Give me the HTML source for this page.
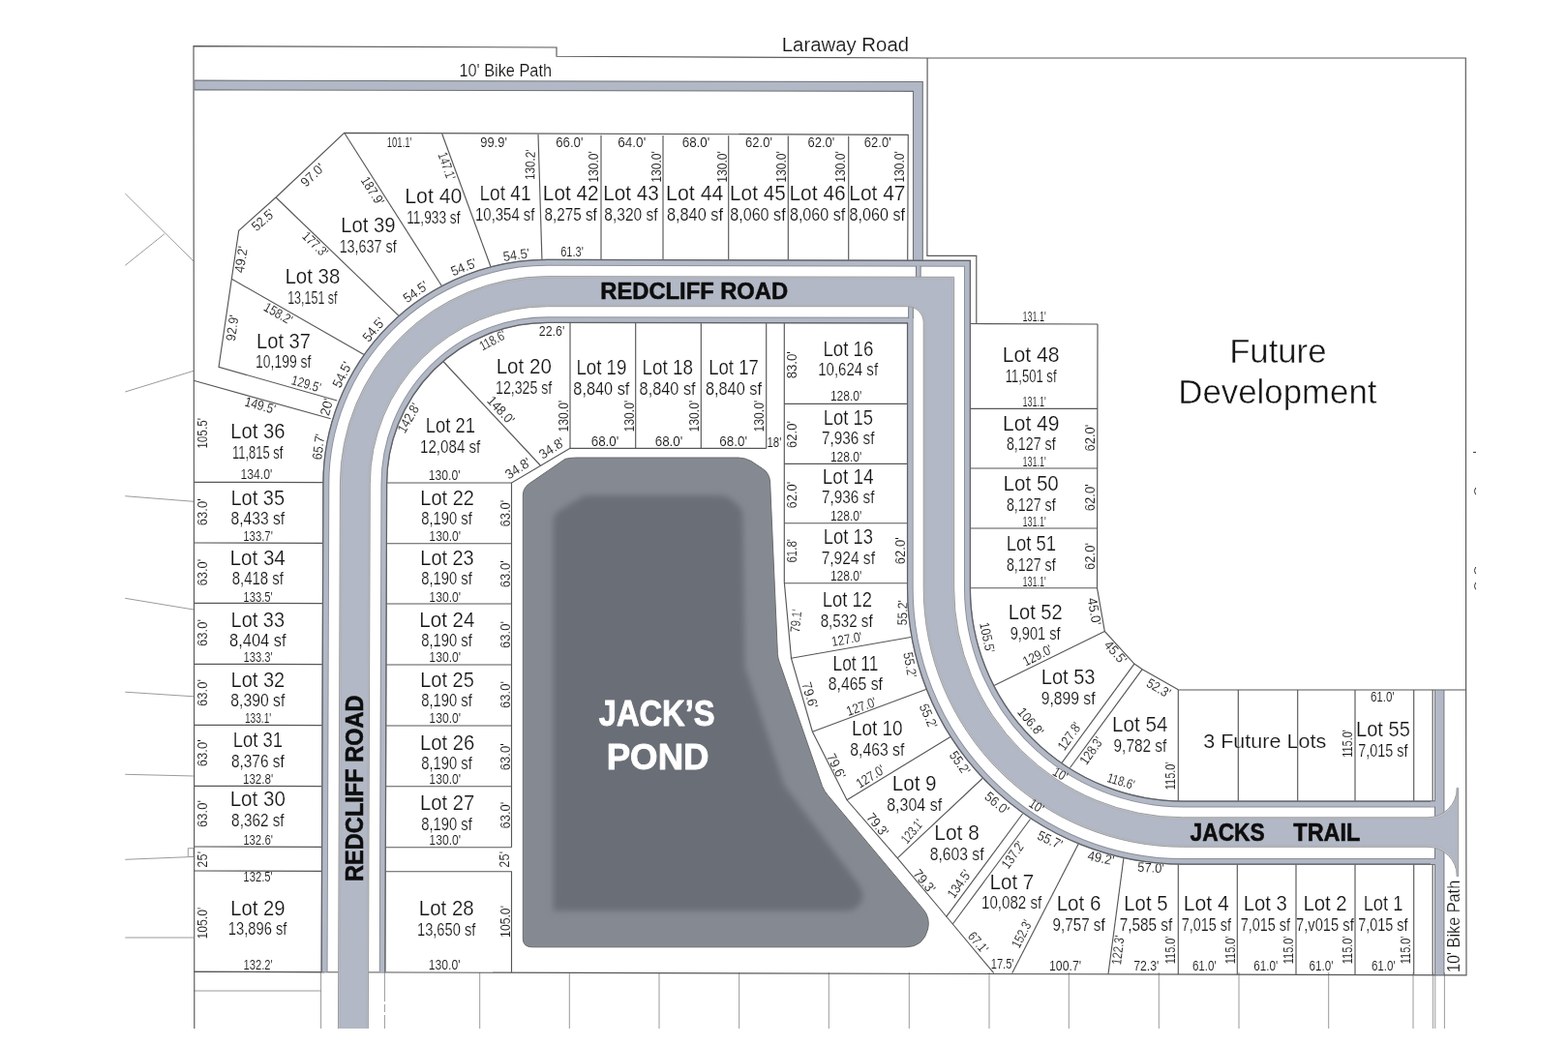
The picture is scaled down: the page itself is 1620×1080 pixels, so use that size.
<!DOCTYPE html>
<html lang="en"><head><meta charset="utf-8"><title>Site Plan - Jack's Pond</title>
<style>
html,body{margin:0;padding:0;background:#fff;}
body{width:1620px;height:1080px;overflow:hidden;position:relative;}
svg{position:absolute;left:0;top:0;display:block;will-change:transform;}
svg text{font-family:"Liberation Sans",sans-serif;text-anchor:middle;}
</style></head><body>
<svg width="1620" height="1080" viewBox="0 0 1620 1080">
<defs><filter id="blur" x="-10%" y="-10%" width="120%" height="120%"><feGaussianBlur stdDeviation="3.2"/></filter></defs>
<rect x="0" y="0" width="1620" height="1080" fill="#ffffff"/>
<path d="M129.3 200.0 L200.0 270.0" fill="none" stroke="#8e8e8e" stroke-width="0.90"/>
<path d="M129.3 274.3 L170.0 241.7" fill="none" stroke="#8e8e8e" stroke-width="0.90"/>
<path d="M129.3 405.0 L200.0 383.3" fill="none" stroke="#8e8e8e" stroke-width="0.90"/>
<path d="M129.3 512.7 L200.0 518.3" fill="none" stroke="#8e8e8e" stroke-width="0.90"/>
<path d="M129.3 618.3 L200.0 630.0" fill="none" stroke="#8e8e8e" stroke-width="0.90"/>
<path d="M129.3 715.2 L200.0 719.8" fill="none" stroke="#8e8e8e" stroke-width="0.90"/>
<path d="M129.3 800.3 L200.0 802.0" fill="none" stroke="#8e8e8e" stroke-width="0.90"/>
<path d="M129.3 888.3 L194.3 885.7" fill="none" stroke="#8e8e8e" stroke-width="0.90"/>
<path d="M129.3 969.0 L200.0 969.0" fill="none" stroke="#8e8e8e" stroke-width="0.90"/>
<path d="M200.5 1024.0 L332.0 1024.0" fill="none" stroke="#8e8e8e" stroke-width="0.90"/>
<path d="M194.3 876.7 L200.0 876.7 L200.0 885.5 L194.3 885.5 Z" fill="none" stroke="#8e8e8e" stroke-width="0.90"/>
<path d="M331.6 1005.0 L331.6 1063.0" fill="none" stroke="#8e8e8e" stroke-width="0.90"/>
<path d="M495.7 1005.0 L495.7 1063.0" fill="none" stroke="#8e8e8e" stroke-width="0.90"/>
<path d="M588.3 1005.0 L588.3 1063.0" fill="none" stroke="#8e8e8e" stroke-width="0.90"/>
<path d="M681.0 1005.0 L681.0 1063.0" fill="none" stroke="#8e8e8e" stroke-width="0.90"/>
<path d="M763.7 1005.0 L763.7 1063.0" fill="none" stroke="#8e8e8e" stroke-width="0.90"/>
<path d="M856.3 1005.0 L856.3 1063.0" fill="none" stroke="#8e8e8e" stroke-width="0.90"/>
<path d="M939.3 1005.0 L939.3 1063.0" fill="none" stroke="#8e8e8e" stroke-width="0.90"/>
<path d="M1022.0 1005.0 L1022.0 1063.0" fill="none" stroke="#8e8e8e" stroke-width="0.90"/>
<path d="M1104.3 1005.0 L1104.3 1063.0" fill="none" stroke="#8e8e8e" stroke-width="0.90"/>
<path d="M1197.3 1005.0 L1197.3 1063.0" fill="none" stroke="#8e8e8e" stroke-width="0.90"/>
<path d="M1280.0 1005.0 L1280.0 1063.0" fill="none" stroke="#8e8e8e" stroke-width="0.90"/>
<path d="M1372.7 1005.0 L1372.7 1063.0" fill="none" stroke="#8e8e8e" stroke-width="0.90"/>
<path d="M1460.0 1005.0 L1460.0 1063.0" fill="none" stroke="#8e8e8e" stroke-width="0.90"/>
<path d="M1480.6 1005.0 L1480.6 1063.0" fill="none" stroke="#8e8e8e" stroke-width="0.90"/>
<path d="M1482.8 1005.0 L1482.8 1063.0" fill="none" stroke="#8e8e8e" stroke-width="0.90"/>
<path d="M1492.4 1005.0 L1492.4 1063.0" fill="none" stroke="#8e8e8e" stroke-width="0.90"/>
<path d="M397.4 1005.0 L397.4 1063.0" fill="none" stroke="#8e8e8e" stroke-width="0.90" stroke-dasharray="30 3 8 3 40"/>
<path d="M200.8 1063.0 L200.0 47.6 L575.0 49.0 L575.0 58.3 L958.3 60.0 L1514.3 60.0 L1514.6 713.0 L1217.0 713.0" fill="none" stroke="#575757" stroke-width="1.15"/>
<path d="M958.1 60.0 L957.9 264.3 L1008.8 264.3 L1008.8 334.6" fill="none" stroke="#575757" stroke-width="1.15"/>
<path d="M1001.0 334.5 L1134.0 335.0" fill="none" stroke="#575757" stroke-width="1.15"/>
<path d="M200.7 1004.4 L1515.0 1007.8 L1514.6 713.0" fill="none" stroke="#575757" stroke-width="1.15"/>
<path d="M200.7 88.0 L948.4 89.45 L948.4 270" fill="none" stroke="#6e7178" stroke-width="10.90"/>
<path d="M201.3 88.0 L948.4 89.45 L948.4 270" fill="none" stroke="#b2b8c5" stroke-width="8.70"/>
<path d="M1487.2 713 L1487.2 1007.6" fill="none" stroke="#6e7178" stroke-width="10.40"/>
<path d="M1487.2 713.6 L1487.2 1007.2" fill="none" stroke="#b2b8c5" stroke-width="8.60"/>
<path d="M348.3 414.0 L226.0 379.3 L239.3 288.3 L246.7 238.3 L285.0 204.0 L355.7 137.3 L938.3 139.3 L937.7 270.0" fill="none" stroke="#575757" stroke-width="1.15"/>
<path d="M200.0 393.3 L341.7 432.7" fill="none" stroke="#575757" stroke-width="1.15"/>
<path d="M239.3 288.3 L377.0 367.0" fill="none" stroke="#575757" stroke-width="1.15"/>
<path d="M285.0 204.0 L413.0 327.3" fill="none" stroke="#575757" stroke-width="1.15"/>
<path d="M355.7 137.3 L457.0 296.5" fill="none" stroke="#575757" stroke-width="1.15"/>
<path d="M456.7 138.3 L507.5 277.0" fill="none" stroke="#575757" stroke-width="1.15"/>
<path d="M556.0 138.7 L560.0 270.0" fill="none" stroke="#575757" stroke-width="1.15"/>
<path d="M621.0 139.8 L621.0 270.0" fill="none" stroke="#575757" stroke-width="1.15"/>
<path d="M685.0 140.0 L685.0 270.0" fill="none" stroke="#575757" stroke-width="1.15"/>
<path d="M752.7 140.2 L752.7 270.0" fill="none" stroke="#575757" stroke-width="1.15"/>
<path d="M814.3 140.5 L814.3 270.0" fill="none" stroke="#575757" stroke-width="1.15"/>
<path d="M876.7 140.7 L876.7 270.0" fill="none" stroke="#575757" stroke-width="1.15"/>
<path d="M200.5 498.3 L335.0 498.6" fill="none" stroke="#575757" stroke-width="1.15"/>
<path d="M200.5 561.0 L335.0 561.3" fill="none" stroke="#575757" stroke-width="1.15"/>
<path d="M200.5 623.3 L335.0 623.6" fill="none" stroke="#575757" stroke-width="1.15"/>
<path d="M200.5 686.3 L335.0 686.6" fill="none" stroke="#575757" stroke-width="1.15"/>
<path d="M200.5 749.3 L335.0 749.6" fill="none" stroke="#575757" stroke-width="1.15"/>
<path d="M200.5 812.3 L335.0 812.6" fill="none" stroke="#575757" stroke-width="1.15"/>
<path d="M200.5 875.0 L335.0 875.3" fill="none" stroke="#575757" stroke-width="1.15"/>
<path d="M200.5 900.0 L335.0 900.3" fill="none" stroke="#575757" stroke-width="1.15"/>
<path d="M200.5 1004.3 L335.0 1004.6" fill="none" stroke="#575757" stroke-width="1.15"/>
<path d="M397.0 499.0 L528.5 499.0" fill="none" stroke="#575757" stroke-width="1.15"/>
<path d="M397.0 561.7 L528.5 561.7" fill="none" stroke="#575757" stroke-width="1.15"/>
<path d="M397.0 624.0 L528.5 624.0" fill="none" stroke="#575757" stroke-width="1.15"/>
<path d="M397.0 687.0 L528.5 687.0" fill="none" stroke="#575757" stroke-width="1.15"/>
<path d="M397.0 750.0 L528.5 750.0" fill="none" stroke="#575757" stroke-width="1.15"/>
<path d="M397.0 812.7 L528.5 812.7" fill="none" stroke="#575757" stroke-width="1.15"/>
<path d="M397.0 875.7 L528.5 875.7" fill="none" stroke="#575757" stroke-width="1.15"/>
<path d="M397.0 900.7 L528.5 900.7 L528.5 1005.0" fill="none" stroke="#575757" stroke-width="1.15"/>
<path d="M528.5 875.7 L528.5 499.0 L589.0 463.3" fill="none" stroke="#575757" stroke-width="1.15"/>
<path d="M456.5 372.0 L558.3 481.0" fill="none" stroke="#575757" stroke-width="1.15"/>
<path d="M589.0 332.0 L589.0 463.3" fill="none" stroke="#575757" stroke-width="1.15"/>
<path d="M656.7 332.0 L656.7 463.3" fill="none" stroke="#575757" stroke-width="1.15"/>
<path d="M724.3 332.0 L724.3 463.3" fill="none" stroke="#575757" stroke-width="1.15"/>
<path d="M791.7 332.0 L791.7 463.3" fill="none" stroke="#575757" stroke-width="1.15"/>
<path d="M589.0 463.3 L791.7 463.3" fill="none" stroke="#575757" stroke-width="1.15"/>
<path d="M810.3 332.0 L810.3 601.8 L817.5 680.3 L839.4 756.2 L875.0 826.8 L927.2 886.8 L978.0 947.5 L984.3 955.0 L1026.7 1005.7" fill="none" stroke="#575757" stroke-width="1.15"/>
<path d="M810.3 417.3 L940.0 417.3" fill="none" stroke="#575757" stroke-width="1.15"/>
<path d="M810.3 479.3 L940.0 479.3" fill="none" stroke="#575757" stroke-width="1.15"/>
<path d="M810.3 540.7 L940.0 540.7" fill="none" stroke="#575757" stroke-width="1.15"/>
<path d="M810.3 602.7 L940.0 602.7" fill="none" stroke="#575757" stroke-width="1.15"/>
<path d="M817.5 680.3 L941.0 658.5" fill="none" stroke="#575757" stroke-width="1.15"/>
<path d="M839.4 756.2 L958.0 712.0" fill="none" stroke="#575757" stroke-width="1.15"/>
<path d="M875.0 826.8 L982.0 761.5" fill="none" stroke="#575757" stroke-width="1.15"/>
<path d="M927.2 886.8 L1015.0 804.5" fill="none" stroke="#575757" stroke-width="1.15"/>
<path d="M977.5 947.7 L1056.5 841.0" fill="none" stroke="#575757" stroke-width="1.15"/>
<path d="M984.3 955.0 L1064.5 846.5" fill="none" stroke="#575757" stroke-width="1.15"/>
<path d="M1045.7 1005.7 L1114.5 871.5" fill="none" stroke="#575757" stroke-width="1.15"/>
<path d="M1145.0 1006.7 L1161.3 884.0" fill="none" stroke="#575757" stroke-width="1.15"/>
<path d="M1217.3 890.0 L1217.3 1007.0" fill="none" stroke="#575757" stroke-width="1.15"/>
<path d="M1278.3 890.0 L1278.3 1007.0" fill="none" stroke="#575757" stroke-width="1.15"/>
<path d="M1339.0 890.0 L1339.0 1007.0" fill="none" stroke="#575757" stroke-width="1.15"/>
<path d="M1400.0 890.0 L1400.0 1007.0" fill="none" stroke="#575757" stroke-width="1.15"/>
<path d="M1460.7 890.0 L1460.7 1007.0" fill="none" stroke="#575757" stroke-width="1.15"/>
<path d="M1480.2 890.0 L1480.2 1007.5" fill="none" stroke="#575757" stroke-width="1.15"/>
<path d="M1001.0 422.3 L1134.0 422.3" fill="none" stroke="#575757" stroke-width="1.15"/>
<path d="M1001.0 484.0 L1134.0 484.0" fill="none" stroke="#575757" stroke-width="1.15"/>
<path d="M1001.0 546.0 L1134.0 546.0" fill="none" stroke="#575757" stroke-width="1.15"/>
<path d="M1001.0 607.7 L1134.0 607.7" fill="none" stroke="#575757" stroke-width="1.15"/>
<path d="M1134.0 335.0 L1133.5 607.7 L1141.3 652.4 L1171.9 686.1 L1180.2 691.7 L1217.3 712.8" fill="none" stroke="#575757" stroke-width="1.15"/>
<path d="M1025.5 709.3 L1141.3 652.4" fill="none" stroke="#575757" stroke-width="1.15"/>
<path d="M1096.3 789.3 L1171.9 686.1" fill="none" stroke="#575757" stroke-width="1.15"/>
<path d="M1105.5 793.5 L1180.2 691.7" fill="none" stroke="#575757" stroke-width="1.15"/>
<path d="M1217.3 713.0 L1217.3 829.0" fill="none" stroke="#575757" stroke-width="1.15"/>
<path d="M1279.3 713.0 L1279.3 829.0" fill="none" stroke="#575757" stroke-width="1.15"/>
<path d="M1340.7 713.0 L1340.7 829.0" fill="none" stroke="#575757" stroke-width="1.15"/>
<path d="M1400.0 713.0 L1400.0 829.0" fill="none" stroke="#575757" stroke-width="1.15"/>
<path d="M1460.7 713.0 L1460.7 829.0" fill="none" stroke="#575757" stroke-width="1.15"/>
<path d="M1480.2 713.0 L1480.2 829.0" fill="none" stroke="#575757" stroke-width="1.15"/>
<path d="M335.05 1004.60 L336.80 500.30 A228.80 229.00 0 0 1 565.60 271.30 L999.50 272.20 L999.50 607.90 A222.90 223.05 0 0 0 1222.40 830.95 L1482 830.95" fill="none" stroke="#8b8f97" stroke-width="7.00" stroke-linejoin="miter"/>
<path d="M335.05 1004.60 L336.80 500.30 A228.80 229.00 0 0 1 565.60 271.30 L999.50 272.20 L999.50 607.90 A222.90 223.05 0 0 0 1222.40 830.95 L1482 830.95" fill="none" stroke="#b2b8c5" stroke-width="5.10" stroke-linejoin="miter"/>
<path d="M332.18 1004.60 L333.93 500.30 A231.68 231.88 0 0 1 565.60 268.43 L1002.38 269.32 L1002.38 607.90 A220.03 220.18 0 0 0 1222.40 828.08 L1482 828.08" fill="none" stroke="#5f6166" stroke-width="1.25" stroke-linejoin="miter"/>
<path d="M395.10 1004.80 L396.85 500.30 A168.75 169.70 0 0 1 565.60 330.60 L940.30 331.20 L940.30 607.90 A282.10 282.55 0 0 0 1222.40 890.45 L1482 890.45" fill="none" stroke="#8b8f97" stroke-width="6.70" stroke-linejoin="miter"/>
<path d="M395.10 1004.80 L396.85 500.30 A168.75 169.70 0 0 1 565.60 330.60 L940.30 331.20 L940.30 607.90 A282.10 282.55 0 0 0 1222.40 890.45 L1482 890.45" fill="none" stroke="#b2b8c5" stroke-width="4.80" stroke-linejoin="miter"/>
<path d="M397.83 1004.80 L399.58 500.30 A166.02 166.97 0 0 1 565.60 333.33 L937.57 333.93 L937.57 607.90 A284.83 285.28 0 0 0 1222.40 893.18 L1482 893.18" fill="none" stroke="#5f6166" stroke-width="1.25" stroke-linejoin="miter"/>
<path d="M1478 830.95 L1484.5 830.95" fill="none" stroke="#b2b8c5" stroke-width="5.20"/>
<path d="M1478 890.45 L1484.5 890.45" fill="none" stroke="#b2b8c5" stroke-width="5.20"/>
<path d="M948.8 275 L948.8 287" fill="none" stroke="#6e7178" stroke-width="5.60"/>
<path d="M948.8 274.5 L948.8 287" fill="none" stroke="#b2b8c5" stroke-width="3.80"/>
<path d="M941 316 L941 329" fill="none" stroke="#6e7178" stroke-width="5.60"/>
<path d="M941 316 L941 329.5" fill="none" stroke="#b2b8c5" stroke-width="3.80"/>
<path d="M349.45 1063 L351.40 500.30 A214.20 214.70 0 0 1 565.60 285.60 L985.70 286.30 L985.70 607.90 A236.70 236.90 0 0 0 1222.40 844.80 L1475 844.80 A30.40 30.40 0 0 0 1505.40 814.40 L1506.70 814.40 L1506.70 905.70 L1505.40 905.70 A30.40 30.40 0 0 0 1475 875.30 L1222.40 875.30 A268.20 267.40 0 0 1 954.20 607.90 L954.20 333.6 A16.60 16.60 0 0 0 937.60 316.70 L565.60 316.70 A183.30 183.60 0 0 0 382.30 500.30 L380.35 1063" fill="#bcc1cb" stroke="#9c9c9c" stroke-width="1.00"/>
<path d="M351.15 1063 L353.10 500.30 A212.50 213.00 0 0 1 565.60 287.30 L984.00 288.00 L984.00 607.90 A238.40 238.60 0 0 0 1222.40 846.50 L1475 846.50 A28.70 28.70 0 0 0 1505.40 814.40 L1505.00 814.40 L1505.00 905.70 L1505.40 905.70 A28.70 28.70 0 0 0 1475 873.60 L1222.40 873.60 A266.50 265.70 0 0 1 955.90 607.90 L955.90 333.6 A18.30 18.30 0 0 0 937.60 315.00 L565.60 315.00 A185.00 185.30 0 0 0 380.60 500.30 L378.65 1063" fill="#b2b8c5" stroke="#a9acb3" stroke-width="0.70"/>
<path d="M584 474.3 Q590 473 596 473 L763 473 Q770 473.2 776 476.5 L788 484.5 Q795 489 795.6 498 L803.4 675.5 Q803.6 680 805.3 684.5 L849.5 812.5 Q851.5 817.5 855 821.5 L954.5 940.5 Q961 949 958.7 960 Q954 978.8 936 978.8 L550 978.8 Q540.3 978.8 540.3 970 L540.3 512 Q540.3 504.5 546.5 500 Z" fill="#858a92" stroke="#6a6a6a" stroke-width="1.00"/>
<path d="M604 512 L744 512 Q752 512 758 518 L766 526 L767.5 531.5 L769.6 689.4 L810.4 811.7 L886.8 913.6 Q894 924 890 932 Q885 941.5 874 941.5 L571.5 941.5 L571.5 538 Q571.5 532 577 528 Z" fill="#6a6e77" stroke="none" stroke-width="0.00" filter="url(#blur)"/>
<path d="M1522.0 467.4 L1525.0 467.4" fill="none" stroke="#333" stroke-width="1.00"/>
<path d="M1524.6 504.0 Q1522.2 507.6 1524.6 511.2" fill="none" stroke="#333" stroke-width="1.00"/>
<path d="M1524.6 586.0 Q1522.2 589.6 1524.6 593.2" fill="none" stroke="#333" stroke-width="1.00"/>
<path d="M1524.6 602.1 Q1522.2 605.7 1524.6 609.3" fill="none" stroke="#333" stroke-width="1.00"/>
<text transform="translate(873.5 45.5)" x="-0.12" y="7.05" font-size="20.5" fill="#141414" stroke="#fff" stroke-width="0.18" textLength="131.32" lengthAdjust="spacingAndGlyphs">Laraway Road</text>
<text transform="translate(522.3 72.3)" x="-0.07" y="6.54" font-size="19.0" fill="#141414" stroke="#fff" stroke-width="0.18" textLength="95.61" lengthAdjust="spacingAndGlyphs">10' Bike Path</text>
<text transform="translate(1501.1 957.4) rotate(-90.0)" x="-0.07" y="6.43" font-size="18.7" fill="#141414" stroke="#fff" stroke-width="0.20" textLength="95.30" lengthAdjust="spacingAndGlyphs">10' Bike Path</text>
<text transform="translate(1320.9 363.0)" x="-0.60" y="11.94" font-size="34.7" fill="#141414" stroke="#fff" stroke-width="0.45" textLength="100.35" lengthAdjust="spacingAndGlyphs">Future</text>
<text transform="translate(1321.1 404.6)" x="-1.27" y="11.94" font-size="34.7" fill="#141414" stroke="#fff" stroke-width="0.45" textLength="205.24" lengthAdjust="spacingAndGlyphs">Development</text>
<text transform="translate(1306.7 766.7)" x="-0.03" y="6.71" font-size="19.5" fill="#141414" stroke="#fff" stroke-width="0.18" textLength="126.96" lengthAdjust="spacingAndGlyphs">3 Future Lots</text>
<text transform="translate(717.5 300.6)" x="-0.28" y="8.46" font-size="24.6" font-weight="bold" fill="#0d0d0d" stroke="#0d0d0d" stroke-width="0.55" stroke-linejoin="round" textLength="193.72" lengthAdjust="spacingAndGlyphs">REDCLIFF ROAD</text>
<text transform="translate(365.9 814.4) rotate(-90.0)" x="-0.28" y="8.70" font-size="25.3" font-weight="bold" fill="#0d0d0d" stroke="#0d0d0d" stroke-width="0.55" stroke-linejoin="round" textLength="192.50" lengthAdjust="spacingAndGlyphs">REDCLIFF ROAD</text>
<text transform="translate(1267.9 860.1)" x="0.22" y="8.60" font-size="25.0" font-weight="bold" fill="#0d0d0d" stroke="#0d0d0d" stroke-width="0.55" stroke-linejoin="round" textLength="77.03" lengthAdjust="spacingAndGlyphs">JACKS</text>
<text transform="translate(1370.6 860.1)" x="0.22" y="8.60" font-size="25.0" font-weight="bold" fill="#0d0d0d" stroke="#0d0d0d" stroke-width="0.55" stroke-linejoin="round" textLength="69.01" lengthAdjust="spacingAndGlyphs">TRAIL</text>
<text transform="translate(678.3 737.5)" x="0.37" y="12.83" font-size="37.3" font-weight="bold" fill="#fff" stroke="#fff" stroke-width="0.90" stroke-linejoin="round" textLength="119.82" lengthAdjust="spacingAndGlyphs">JACK’S</text>
<text transform="translate(680.0 782.5)" x="-0.38" y="12.83" font-size="37.3" font-weight="bold" fill="#fff" stroke="#fff" stroke-width="0.90" stroke-linejoin="round" textLength="105.90" lengthAdjust="spacingAndGlyphs">POND</text>
<text transform="translate(448.3 202.7)" x="-0.48" y="7.40" font-size="21.5" fill="#141414" stroke="#fff" stroke-width="0.22" textLength="59.26" lengthAdjust="spacingAndGlyphs">Lot 40</text>
<text transform="translate(448.3 225.0)" x="-0.51" y="6.02" font-size="17.5" fill="#141414" stroke="#fff" stroke-width="0.17" textLength="55.30" lengthAdjust="spacingAndGlyphs">11,933 sf</text>
<text transform="translate(522.3 200.0)" x="-0.33" y="7.40" font-size="21.5" fill="#141414" stroke="#fff" stroke-width="0.22" textLength="53.20" lengthAdjust="spacingAndGlyphs">Lot 41</text>
<text transform="translate(522.3 221.7)" x="-0.56" y="6.02" font-size="17.5" fill="#141414" stroke="#fff" stroke-width="0.17" textLength="61.37" lengthAdjust="spacingAndGlyphs">10,354 sf</text>
<text transform="translate(590.0 200.0)" x="-0.31" y="7.40" font-size="21.5" fill="#141414" stroke="#fff" stroke-width="0.22" textLength="57.70" lengthAdjust="spacingAndGlyphs">Lot 42</text>
<text transform="translate(590.0 221.7)" x="-0.36" y="6.02" font-size="17.5" fill="#141414" stroke="#fff" stroke-width="0.17" textLength="54.28" lengthAdjust="spacingAndGlyphs">8,275 sf</text>
<text transform="translate(652.3 200.0)" x="-0.41" y="7.40" font-size="21.5" fill="#141414" stroke="#fff" stroke-width="0.22" textLength="57.49" lengthAdjust="spacingAndGlyphs">Lot 43</text>
<text transform="translate(652.3 221.7)" x="-0.36" y="6.02" font-size="17.5" fill="#141414" stroke="#fff" stroke-width="0.17" textLength="55.26" lengthAdjust="spacingAndGlyphs">8,320 sf</text>
<text transform="translate(718.3 200.0)" x="-0.53" y="7.40" font-size="21.5" fill="#141414" stroke="#fff" stroke-width="0.22" textLength="59.35" lengthAdjust="spacingAndGlyphs">Lot 44</text>
<text transform="translate(718.3 221.7)" x="-0.38" y="6.02" font-size="17.5" fill="#141414" stroke="#fff" stroke-width="0.17" textLength="58.05" lengthAdjust="spacingAndGlyphs">8,840 sf</text>
<text transform="translate(783.3 200.0)" x="-0.41" y="7.40" font-size="21.5" fill="#141414" stroke="#fff" stroke-width="0.22" textLength="57.70" lengthAdjust="spacingAndGlyphs">Lot 45</text>
<text transform="translate(783.3 221.7)" x="-0.38" y="6.02" font-size="17.5" fill="#141414" stroke="#fff" stroke-width="0.17" textLength="57.40" lengthAdjust="spacingAndGlyphs">8,060 sf</text>
<text transform="translate(845.0 200.0)" x="-0.42" y="7.40" font-size="21.5" fill="#141414" stroke="#fff" stroke-width="0.22" textLength="58.32" lengthAdjust="spacingAndGlyphs">Lot 46</text>
<text transform="translate(845.0 221.7)" x="-0.38" y="6.02" font-size="17.5" fill="#141414" stroke="#fff" stroke-width="0.17" textLength="57.40" lengthAdjust="spacingAndGlyphs">8,060 sf</text>
<text transform="translate(906.7 200.0)" x="-0.31" y="7.40" font-size="21.5" fill="#141414" stroke="#fff" stroke-width="0.22" textLength="58.12" lengthAdjust="spacingAndGlyphs">Lot 47</text>
<text transform="translate(906.7 221.7)" x="-0.38" y="6.02" font-size="17.5" fill="#141414" stroke="#fff" stroke-width="0.17" textLength="57.40" lengthAdjust="spacingAndGlyphs">8,060 sf</text>
<text transform="translate(380.7 232.7)" x="-0.35" y="7.40" font-size="21.5" fill="#141414" stroke="#fff" stroke-width="0.22" textLength="56.34" lengthAdjust="spacingAndGlyphs">Lot 39</text>
<text transform="translate(380.7 255.0)" x="-0.54" y="6.02" font-size="17.5" fill="#141414" stroke="#fff" stroke-width="0.17" textLength="59.06" lengthAdjust="spacingAndGlyphs">13,637 sf</text>
<text transform="translate(323.3 286.0)" x="-0.41" y="7.40" font-size="21.5" fill="#141414" stroke="#fff" stroke-width="0.22" textLength="56.86" lengthAdjust="spacingAndGlyphs">Lot 38</text>
<text transform="translate(323.3 307.7)" x="-0.47" y="6.02" font-size="17.5" fill="#141414" stroke="#fff" stroke-width="0.17" textLength="51.31" lengthAdjust="spacingAndGlyphs">13,151 sf</text>
<text transform="translate(293.3 352.7)" x="-0.30" y="7.40" font-size="21.5" fill="#141414" stroke="#fff" stroke-width="0.22" textLength="56.03" lengthAdjust="spacingAndGlyphs">Lot 37</text>
<text transform="translate(293.3 374.0)" x="-0.53" y="6.02" font-size="17.5" fill="#141414" stroke="#fff" stroke-width="0.17" textLength="57.41" lengthAdjust="spacingAndGlyphs">10,199 sf</text>
<text transform="translate(412.7 146.7)" x="-0.13" y="4.82" font-size="14.0" fill="#141414" stroke="#fff" stroke-width="0.12" textLength="25.65" lengthAdjust="spacingAndGlyphs">101.1'</text>
<text transform="translate(510.0 146.7)" x="0.05" y="4.82" font-size="14.0" fill="#141414" stroke="#fff" stroke-width="0.12" textLength="27.59" lengthAdjust="spacingAndGlyphs">99.9'</text>
<text transform="translate(588.3 146.7)" x="0.02" y="4.82" font-size="14.0" fill="#141414" stroke="#fff" stroke-width="0.12" textLength="28.36" lengthAdjust="spacingAndGlyphs">66.0'</text>
<text transform="translate(652.7 146.7)" x="0.02" y="4.82" font-size="14.0" fill="#141414" stroke="#fff" stroke-width="0.12" textLength="29.19" lengthAdjust="spacingAndGlyphs">64.0'</text>
<text transform="translate(719.0 146.7)" x="0.02" y="4.82" font-size="14.0" fill="#141414" stroke="#fff" stroke-width="0.12" textLength="28.77" lengthAdjust="spacingAndGlyphs">68.0'</text>
<text transform="translate(784.0 146.7)" x="0.01" y="4.82" font-size="14.0" fill="#141414" stroke="#fff" stroke-width="0.12" textLength="27.80" lengthAdjust="spacingAndGlyphs">62.0'</text>
<text transform="translate(848.3 146.7)" x="0.01" y="4.82" font-size="14.0" fill="#141414" stroke="#fff" stroke-width="0.12" textLength="27.80" lengthAdjust="spacingAndGlyphs">62.0'</text>
<text transform="translate(906.7 146.7)" x="0.01" y="4.82" font-size="14.0" fill="#141414" stroke="#fff" stroke-width="0.12" textLength="27.80" lengthAdjust="spacingAndGlyphs">62.0'</text>
<text transform="translate(461.7 171.7) rotate(70.0)" x="-0.14" y="4.82" font-size="14.0" fill="#141414" stroke="#fff" stroke-width="0.12" textLength="28.99" lengthAdjust="spacingAndGlyphs">147.1'</text>
<text transform="translate(547.7 170.0) rotate(-89.0)" x="-0.16" y="4.82" font-size="14.0" fill="#141414" stroke="#fff" stroke-width="0.12" textLength="31.50" lengthAdjust="spacingAndGlyphs">130.2'</text>
<text transform="translate(612.7 172.3) rotate(-90.0)" x="-0.16" y="4.82" font-size="14.0" fill="#141414" stroke="#fff" stroke-width="0.12" textLength="32.76" lengthAdjust="spacingAndGlyphs">130.0'</text>
<text transform="translate(677.7 172.3) rotate(-90.0)" x="-0.16" y="4.82" font-size="14.0" fill="#141414" stroke="#fff" stroke-width="0.12" textLength="32.76" lengthAdjust="spacingAndGlyphs">130.0'</text>
<text transform="translate(745.7 172.3) rotate(-90.0)" x="-0.16" y="4.82" font-size="14.0" fill="#141414" stroke="#fff" stroke-width="0.12" textLength="32.76" lengthAdjust="spacingAndGlyphs">130.0'</text>
<text transform="translate(806.7 172.3) rotate(-90.0)" x="-0.16" y="4.82" font-size="14.0" fill="#141414" stroke="#fff" stroke-width="0.12" textLength="32.76" lengthAdjust="spacingAndGlyphs">130.0'</text>
<text transform="translate(867.7 172.3) rotate(-90.0)" x="-0.16" y="4.82" font-size="14.0" fill="#141414" stroke="#fff" stroke-width="0.12" textLength="32.76" lengthAdjust="spacingAndGlyphs">130.0'</text>
<text transform="translate(929.3 172.3) rotate(-90.0)" x="-0.16" y="4.82" font-size="14.0" fill="#141414" stroke="#fff" stroke-width="0.12" textLength="32.76" lengthAdjust="spacingAndGlyphs">130.0'</text>
<text transform="translate(322.7 181.0) rotate(-43.5)" x="0.05" y="4.82" font-size="14.0" fill="#141414" stroke="#fff" stroke-width="0.12" textLength="28.01" lengthAdjust="spacingAndGlyphs">97.0'</text>
<text transform="translate(385.0 197.3) rotate(57.5)" x="-0.16" y="4.82" font-size="14.0" fill="#141414" stroke="#fff" stroke-width="0.12" textLength="32.06" lengthAdjust="spacingAndGlyphs">187.9'</text>
<text transform="translate(271.7 227.3) rotate(-42.0)" x="0.07" y="4.82" font-size="14.0" fill="#141414" stroke="#fff" stroke-width="0.12" textLength="26.13" lengthAdjust="spacingAndGlyphs">52.5'</text>
<text transform="translate(325.7 252.3) rotate(44.0)" x="-0.15" y="4.82" font-size="14.0" fill="#141414" stroke="#fff" stroke-width="0.12" textLength="30.80" lengthAdjust="spacingAndGlyphs">177.3'</text>
<text transform="translate(249.0 268.3) rotate(-81.6)" x="0.21" y="4.82" font-size="14.0" fill="#141414" stroke="#fff" stroke-width="0.12" textLength="27.53" lengthAdjust="spacingAndGlyphs">49.2'</text>
<text transform="translate(533.3 263.3) rotate(-8.0)" x="0.08" y="4.82" font-size="14.0" fill="#141414" stroke="#fff" stroke-width="0.12" textLength="27.52" lengthAdjust="spacingAndGlyphs">54.5'</text>
<text transform="translate(479.0 276.0) rotate(-22.0)" x="0.08" y="4.82" font-size="14.0" fill="#141414" stroke="#fff" stroke-width="0.12" textLength="27.52" lengthAdjust="spacingAndGlyphs">54.5'</text>
<text transform="translate(429.3 301.7) rotate(-35.0)" x="0.08" y="4.82" font-size="14.0" fill="#141414" stroke="#fff" stroke-width="0.12" textLength="27.52" lengthAdjust="spacingAndGlyphs">54.5'</text>
<text transform="translate(386.0 340.7) rotate(-50.0)" x="0.08" y="4.82" font-size="14.0" fill="#141414" stroke="#fff" stroke-width="0.12" textLength="27.52" lengthAdjust="spacingAndGlyphs">54.5'</text>
<text transform="translate(353.3 387.3) rotate(-63.0)" x="0.08" y="4.82" font-size="14.0" fill="#141414" stroke="#fff" stroke-width="0.12" textLength="27.52" lengthAdjust="spacingAndGlyphs">54.5'</text>
<text transform="translate(591.0 260.0)" x="0.01" y="4.82" font-size="14.0" fill="#141414" stroke="#fff" stroke-width="0.12" textLength="23.61" lengthAdjust="spacingAndGlyphs">61.3'</text>
<text transform="translate(287.7 324.0) rotate(29.8)" x="-0.15" y="4.82" font-size="14.0" fill="#141414" stroke="#fff" stroke-width="0.12" textLength="31.36" lengthAdjust="spacingAndGlyphs">158.2'</text>
<text transform="translate(240.0 339.0) rotate(-81.7)" x="0.05" y="4.82" font-size="14.0" fill="#141414" stroke="#fff" stroke-width="0.12" textLength="27.03" lengthAdjust="spacingAndGlyphs">92.9'</text>
<text transform="translate(316.7 396.7) rotate(15.8)" x="-0.15" y="4.82" font-size="14.0" fill="#141414" stroke="#fff" stroke-width="0.12" textLength="30.94" lengthAdjust="spacingAndGlyphs">129.5'</text>
<text transform="translate(269.0 419.0) rotate(15.5)" x="-0.16" y="4.82" font-size="14.0" fill="#141414" stroke="#fff" stroke-width="0.12" textLength="32.34" lengthAdjust="spacingAndGlyphs">149.5'</text>
<text transform="translate(337.3 420.7) rotate(-75.0)" x="0.02" y="4.82" font-size="14.0" fill="#141414" stroke="#fff" stroke-width="0.12" textLength="17.91" lengthAdjust="spacingAndGlyphs">20'</text>
<text transform="translate(329.0 461.7) rotate(-82.0)" x="0.01" y="4.82" font-size="14.0" fill="#141414" stroke="#fff" stroke-width="0.12" textLength="26.96" lengthAdjust="spacingAndGlyphs">65.7'</text>
<text transform="translate(266.7 446.0)" x="-0.40" y="7.40" font-size="21.5" fill="#141414" stroke="#fff" stroke-width="0.22" textLength="56.23" lengthAdjust="spacingAndGlyphs">Lot 36</text>
<text transform="translate(266.7 467.7)" x="-0.49" y="6.02" font-size="17.5" fill="#141414" stroke="#fff" stroke-width="0.17" textLength="52.49" lengthAdjust="spacingAndGlyphs">11,815 sf</text>
<text transform="translate(209.0 447.7) rotate(-90.0)" x="-0.16" y="4.82" font-size="14.0" fill="#141414" stroke="#fff" stroke-width="0.12" textLength="31.78" lengthAdjust="spacingAndGlyphs">105.5'</text>
<text transform="translate(265.0 490.0)" x="-0.16" y="4.82" font-size="14.0" fill="#141414" stroke="#fff" stroke-width="0.12" textLength="32.90" lengthAdjust="spacingAndGlyphs">134.0'</text>
<text transform="translate(266.7 514.3)" x="-0.40" y="7.40" font-size="21.5" fill="#141414" stroke="#fff" stroke-width="0.22" textLength="55.61" lengthAdjust="spacingAndGlyphs">Lot 35</text>
<text transform="translate(266.7 536.0)" x="-0.37" y="6.02" font-size="17.5" fill="#141414" stroke="#fff" stroke-width="0.17" textLength="55.43" lengthAdjust="spacingAndGlyphs">8,433 sf</text>
<text transform="translate(266.7 554.0)" x="-0.15" y="4.82" font-size="14.0" fill="#141414" stroke="#fff" stroke-width="0.12" textLength="30.53" lengthAdjust="spacingAndGlyphs">133.7'</text>
<text transform="translate(209.0 529.3) rotate(-90.0)" x="0.01" y="4.82" font-size="14.0" fill="#141414" stroke="#fff" stroke-width="0.12" textLength="27.80" lengthAdjust="spacingAndGlyphs">63.0'</text>
<text transform="translate(266.7 576.7)" x="-0.51" y="7.40" font-size="21.5" fill="#141414" stroke="#fff" stroke-width="0.22" textLength="57.27" lengthAdjust="spacingAndGlyphs">Lot 34</text>
<text transform="translate(266.7 598.4)" x="-0.35" y="6.02" font-size="17.5" fill="#141414" stroke="#fff" stroke-width="0.17" textLength="53.13" lengthAdjust="spacingAndGlyphs">8,418 sf</text>
<text transform="translate(266.7 616.7)" x="-0.15" y="4.82" font-size="14.0" fill="#141414" stroke="#fff" stroke-width="0.12" textLength="30.39" lengthAdjust="spacingAndGlyphs">133.5'</text>
<text transform="translate(209.0 591.7) rotate(-90.0)" x="0.01" y="4.82" font-size="14.0" fill="#141414" stroke="#fff" stroke-width="0.12" textLength="27.80" lengthAdjust="spacingAndGlyphs">63.0'</text>
<text transform="translate(266.7 640.7)" x="-0.40" y="7.40" font-size="21.5" fill="#141414" stroke="#fff" stroke-width="0.22" textLength="55.40" lengthAdjust="spacingAndGlyphs">Lot 33</text>
<text transform="translate(266.7 662.4)" x="-0.39" y="6.02" font-size="17.5" fill="#141414" stroke="#fff" stroke-width="0.17" textLength="58.54" lengthAdjust="spacingAndGlyphs">8,404 sf</text>
<text transform="translate(266.7 679.5)" x="-0.15" y="4.82" font-size="14.0" fill="#141414" stroke="#fff" stroke-width="0.12" textLength="30.25" lengthAdjust="spacingAndGlyphs">133.3'</text>
<text transform="translate(209.0 654.0) rotate(-90.0)" x="0.01" y="4.82" font-size="14.0" fill="#141414" stroke="#fff" stroke-width="0.12" textLength="27.80" lengthAdjust="spacingAndGlyphs">63.0'</text>
<text transform="translate(266.7 702.7)" x="-0.30" y="7.40" font-size="21.5" fill="#141414" stroke="#fff" stroke-width="0.22" textLength="55.61" lengthAdjust="spacingAndGlyphs">Lot 32</text>
<text transform="translate(266.7 724.4)" x="-0.37" y="6.02" font-size="17.5" fill="#141414" stroke="#fff" stroke-width="0.17" textLength="55.92" lengthAdjust="spacingAndGlyphs">8,390 sf</text>
<text transform="translate(266.7 742.3)" x="-0.13" y="4.82" font-size="14.0" fill="#141414" stroke="#fff" stroke-width="0.12" textLength="27.32" lengthAdjust="spacingAndGlyphs">133.1'</text>
<text transform="translate(209.0 716.0) rotate(-90.0)" x="0.01" y="4.82" font-size="14.0" fill="#141414" stroke="#fff" stroke-width="0.12" textLength="27.80" lengthAdjust="spacingAndGlyphs">63.0'</text>
<text transform="translate(266.7 765.0)" x="-0.32" y="7.40" font-size="21.5" fill="#141414" stroke="#fff" stroke-width="0.22" textLength="51.10" lengthAdjust="spacingAndGlyphs">Lot 31</text>
<text transform="translate(266.7 786.7)" x="-0.36" y="6.02" font-size="17.5" fill="#141414" stroke="#fff" stroke-width="0.17" textLength="54.77" lengthAdjust="spacingAndGlyphs">8,376 sf</text>
<text transform="translate(266.7 805.0)" x="-0.15" y="4.82" font-size="14.0" fill="#141414" stroke="#fff" stroke-width="0.12" textLength="31.22" lengthAdjust="spacingAndGlyphs">132.8'</text>
<text transform="translate(209.0 778.3) rotate(-90.0)" x="0.01" y="4.82" font-size="14.0" fill="#141414" stroke="#fff" stroke-width="0.12" textLength="27.80" lengthAdjust="spacingAndGlyphs">63.0'</text>
<text transform="translate(266.7 826.0)" x="-0.46" y="7.40" font-size="21.5" fill="#141414" stroke="#fff" stroke-width="0.22" textLength="57.17" lengthAdjust="spacingAndGlyphs">Lot 30</text>
<text transform="translate(266.7 847.7)" x="-0.36" y="6.02" font-size="17.5" fill="#141414" stroke="#fff" stroke-width="0.17" textLength="54.44" lengthAdjust="spacingAndGlyphs">8,362 sf</text>
<text transform="translate(266.7 868.3)" x="-0.15" y="4.82" font-size="14.0" fill="#141414" stroke="#fff" stroke-width="0.12" textLength="30.80" lengthAdjust="spacingAndGlyphs">132.6'</text>
<text transform="translate(209.0 841.0) rotate(-90.0)" x="0.01" y="4.82" font-size="14.0" fill="#141414" stroke="#fff" stroke-width="0.12" textLength="27.80" lengthAdjust="spacingAndGlyphs">63.0'</text>
<text transform="translate(209.0 888.3) rotate(-90.0)" x="0.02" y="4.82" font-size="14.0" fill="#141414" stroke="#fff" stroke-width="0.12" textLength="16.76" lengthAdjust="spacingAndGlyphs">25'</text>
<text transform="translate(266.7 906.0)" x="-0.15" y="4.82" font-size="14.0" fill="#141414" stroke="#fff" stroke-width="0.12" textLength="30.39" lengthAdjust="spacingAndGlyphs">132.5'</text>
<text transform="translate(266.7 938.3)" x="-0.35" y="7.40" font-size="21.5" fill="#141414" stroke="#fff" stroke-width="0.22" textLength="56.34" lengthAdjust="spacingAndGlyphs">Lot 29</text>
<text transform="translate(266.7 960.0)" x="-0.56" y="6.02" font-size="17.5" fill="#141414" stroke="#fff" stroke-width="0.17" textLength="60.55" lengthAdjust="spacingAndGlyphs">13,896 sf</text>
<text transform="translate(209.0 954.0) rotate(-90.0)" x="-0.16" y="4.82" font-size="14.0" fill="#141414" stroke="#fff" stroke-width="0.12" textLength="32.90" lengthAdjust="spacingAndGlyphs">105.0'</text>
<text transform="translate(266.7 996.7)" x="-0.15" y="4.82" font-size="14.0" fill="#141414" stroke="#fff" stroke-width="0.12" textLength="30.25" lengthAdjust="spacingAndGlyphs">132.2'</text>
<text transform="translate(465.7 440.0)" x="-0.32" y="7.40" font-size="21.5" fill="#141414" stroke="#fff" stroke-width="0.22" textLength="51.10" lengthAdjust="spacingAndGlyphs">Lot 21</text>
<text transform="translate(465.7 462.3)" x="-0.57" y="6.02" font-size="17.5" fill="#141414" stroke="#fff" stroke-width="0.17" textLength="62.36" lengthAdjust="spacingAndGlyphs">12,084 sf</text>
<text transform="translate(459.3 490.7)" x="-0.16" y="4.82" font-size="14.0" fill="#141414" stroke="#fff" stroke-width="0.12" textLength="32.76" lengthAdjust="spacingAndGlyphs">130.0'</text>
<text transform="translate(422.3 431.7) rotate(-60.0)" x="-0.16" y="4.82" font-size="14.0" fill="#141414" stroke="#fff" stroke-width="0.12" textLength="32.62" lengthAdjust="spacingAndGlyphs">142.8'</text>
<text transform="translate(517.7 424.0) rotate(46.7)" x="-0.17" y="4.82" font-size="14.0" fill="#141414" stroke="#fff" stroke-width="0.12" textLength="33.87" lengthAdjust="spacingAndGlyphs">148.0'</text>
<text transform="translate(570.0 463.3) rotate(-33.0)" x="0.08" y="4.82" font-size="14.0" fill="#141414" stroke="#fff" stroke-width="0.12" textLength="28.22" lengthAdjust="spacingAndGlyphs">34.8'</text>
<text transform="translate(535.0 484.0) rotate(-33.0)" x="0.08" y="4.82" font-size="14.0" fill="#141414" stroke="#fff" stroke-width="0.12" textLength="28.22" lengthAdjust="spacingAndGlyphs">34.8'</text>
<text transform="translate(541.7 379.0)" x="-0.46" y="7.40" font-size="21.5" fill="#141414" stroke="#fff" stroke-width="0.22" textLength="57.17" lengthAdjust="spacingAndGlyphs">Lot 20</text>
<text transform="translate(541.7 400.7)" x="-0.54" y="6.02" font-size="17.5" fill="#141414" stroke="#fff" stroke-width="0.17" textLength="58.24" lengthAdjust="spacingAndGlyphs">12,325 sf</text>
<text transform="translate(509.0 351.7) rotate(-28.0)" x="-0.14" y="4.82" font-size="14.0" fill="#141414" stroke="#fff" stroke-width="0.12" textLength="28.90" lengthAdjust="spacingAndGlyphs">118.6'</text>
<text transform="translate(570.0 342.5)" x="0.01" y="4.82" font-size="14.0" fill="#141414" stroke="#fff" stroke-width="0.12" textLength="26.54" lengthAdjust="spacingAndGlyphs">22.6'</text>
<text transform="translate(462.4 514.3)" x="-0.30" y="7.40" font-size="21.5" fill="#141414" stroke="#fff" stroke-width="0.22" textLength="55.61" lengthAdjust="spacingAndGlyphs">Lot 22</text>
<text transform="translate(461.9 536.0)" x="-0.35" y="6.02" font-size="17.5" fill="#141414" stroke="#fff" stroke-width="0.17" textLength="52.48" lengthAdjust="spacingAndGlyphs">8,190 sf</text>
<text transform="translate(459.9 554.0)" x="-0.16" y="4.82" font-size="14.0" fill="#141414" stroke="#fff" stroke-width="0.12" textLength="32.76" lengthAdjust="spacingAndGlyphs">130.0'</text>
<text transform="translate(521.7 530.7) rotate(-90.0)" x="0.01" y="4.82" font-size="14.0" fill="#141414" stroke="#fff" stroke-width="0.12" textLength="27.80" lengthAdjust="spacingAndGlyphs">63.0'</text>
<text transform="translate(462.4 576.7)" x="-0.40" y="7.40" font-size="21.5" fill="#141414" stroke="#fff" stroke-width="0.22" textLength="55.40" lengthAdjust="spacingAndGlyphs">Lot 23</text>
<text transform="translate(461.9 598.4)" x="-0.35" y="6.02" font-size="17.5" fill="#141414" stroke="#fff" stroke-width="0.17" textLength="52.48" lengthAdjust="spacingAndGlyphs">8,190 sf</text>
<text transform="translate(459.9 616.7)" x="-0.16" y="4.82" font-size="14.0" fill="#141414" stroke="#fff" stroke-width="0.12" textLength="32.76" lengthAdjust="spacingAndGlyphs">130.0'</text>
<text transform="translate(521.7 593.3) rotate(-90.0)" x="0.01" y="4.82" font-size="14.0" fill="#141414" stroke="#fff" stroke-width="0.12" textLength="27.80" lengthAdjust="spacingAndGlyphs">63.0'</text>
<text transform="translate(462.4 640.7)" x="-0.51" y="7.40" font-size="21.5" fill="#141414" stroke="#fff" stroke-width="0.22" textLength="57.27" lengthAdjust="spacingAndGlyphs">Lot 24</text>
<text transform="translate(461.9 662.4)" x="-0.35" y="6.02" font-size="17.5" fill="#141414" stroke="#fff" stroke-width="0.17" textLength="52.48" lengthAdjust="spacingAndGlyphs">8,190 sf</text>
<text transform="translate(459.9 679.5)" x="-0.16" y="4.82" font-size="14.0" fill="#141414" stroke="#fff" stroke-width="0.12" textLength="32.76" lengthAdjust="spacingAndGlyphs">130.0'</text>
<text transform="translate(521.7 656.0) rotate(-90.0)" x="0.01" y="4.82" font-size="14.0" fill="#141414" stroke="#fff" stroke-width="0.12" textLength="27.80" lengthAdjust="spacingAndGlyphs">63.0'</text>
<text transform="translate(462.4 702.7)" x="-0.40" y="7.40" font-size="21.5" fill="#141414" stroke="#fff" stroke-width="0.22" textLength="55.61" lengthAdjust="spacingAndGlyphs">Lot 25</text>
<text transform="translate(461.9 724.4)" x="-0.35" y="6.02" font-size="17.5" fill="#141414" stroke="#fff" stroke-width="0.17" textLength="52.48" lengthAdjust="spacingAndGlyphs">8,190 sf</text>
<text transform="translate(459.9 742.3)" x="-0.16" y="4.82" font-size="14.0" fill="#141414" stroke="#fff" stroke-width="0.12" textLength="32.76" lengthAdjust="spacingAndGlyphs">130.0'</text>
<text transform="translate(521.7 718.0) rotate(-90.0)" x="0.01" y="4.82" font-size="14.0" fill="#141414" stroke="#fff" stroke-width="0.12" textLength="27.80" lengthAdjust="spacingAndGlyphs">63.0'</text>
<text transform="translate(462.4 767.3)" x="-0.40" y="7.40" font-size="21.5" fill="#141414" stroke="#fff" stroke-width="0.22" textLength="56.23" lengthAdjust="spacingAndGlyphs">Lot 26</text>
<text transform="translate(461.9 789.0)" x="-0.35" y="6.02" font-size="17.5" fill="#141414" stroke="#fff" stroke-width="0.17" textLength="52.48" lengthAdjust="spacingAndGlyphs">8,190 sf</text>
<text transform="translate(459.9 805.0)" x="-0.16" y="4.82" font-size="14.0" fill="#141414" stroke="#fff" stroke-width="0.12" textLength="32.76" lengthAdjust="spacingAndGlyphs">130.0'</text>
<text transform="translate(521.7 782.3) rotate(-90.0)" x="0.01" y="4.82" font-size="14.0" fill="#141414" stroke="#fff" stroke-width="0.12" textLength="27.80" lengthAdjust="spacingAndGlyphs">63.0'</text>
<text transform="translate(462.4 830.0)" x="-0.30" y="7.40" font-size="21.5" fill="#141414" stroke="#fff" stroke-width="0.22" textLength="56.03" lengthAdjust="spacingAndGlyphs">Lot 27</text>
<text transform="translate(461.9 851.7)" x="-0.35" y="6.02" font-size="17.5" fill="#141414" stroke="#fff" stroke-width="0.17" textLength="52.48" lengthAdjust="spacingAndGlyphs">8,190 sf</text>
<text transform="translate(459.9 867.7)" x="-0.16" y="4.82" font-size="14.0" fill="#141414" stroke="#fff" stroke-width="0.12" textLength="32.76" lengthAdjust="spacingAndGlyphs">130.0'</text>
<text transform="translate(521.7 842.7) rotate(-90.0)" x="0.01" y="4.82" font-size="14.0" fill="#141414" stroke="#fff" stroke-width="0.12" textLength="27.80" lengthAdjust="spacingAndGlyphs">63.0'</text>
<text transform="translate(520.7 888.3) rotate(-90.0)" x="0.02" y="4.82" font-size="14.0" fill="#141414" stroke="#fff" stroke-width="0.12" textLength="16.76" lengthAdjust="spacingAndGlyphs">25'</text>
<text transform="translate(461.7 939.0)" x="-0.41" y="7.40" font-size="21.5" fill="#141414" stroke="#fff" stroke-width="0.22" textLength="56.86" lengthAdjust="spacingAndGlyphs">Lot 28</text>
<text transform="translate(461.7 960.7)" x="-0.56" y="6.02" font-size="17.5" fill="#141414" stroke="#fff" stroke-width="0.17" textLength="60.38" lengthAdjust="spacingAndGlyphs">13,650 sf</text>
<text transform="translate(521.7 952.3) rotate(-90.0)" x="-0.16" y="4.82" font-size="14.0" fill="#141414" stroke="#fff" stroke-width="0.12" textLength="32.90" lengthAdjust="spacingAndGlyphs">105.0'</text>
<text transform="translate(459.3 996.7)" x="-0.16" y="4.82" font-size="14.0" fill="#141414" stroke="#fff" stroke-width="0.12" textLength="32.76" lengthAdjust="spacingAndGlyphs">130.0'</text>
<text transform="translate(621.7 380.0)" x="-0.32" y="7.40" font-size="21.5" fill="#141414" stroke="#fff" stroke-width="0.22" textLength="51.94" lengthAdjust="spacingAndGlyphs">Lot 19</text>
<text transform="translate(621.7 401.7)" x="-0.38" y="6.02" font-size="17.5" fill="#141414" stroke="#fff" stroke-width="0.17" textLength="58.05" lengthAdjust="spacingAndGlyphs">8,840 sf</text>
<text transform="translate(690.0 380.0)" x="-0.37" y="7.40" font-size="21.5" fill="#141414" stroke="#fff" stroke-width="0.22" textLength="52.47" lengthAdjust="spacingAndGlyphs">Lot 18</text>
<text transform="translate(690.0 401.7)" x="-0.38" y="6.02" font-size="17.5" fill="#141414" stroke="#fff" stroke-width="0.17" textLength="58.05" lengthAdjust="spacingAndGlyphs">8,840 sf</text>
<text transform="translate(758.3 380.0)" x="-0.28" y="7.40" font-size="21.5" fill="#141414" stroke="#fff" stroke-width="0.22" textLength="51.62" lengthAdjust="spacingAndGlyphs">Lot 17</text>
<text transform="translate(758.3 401.7)" x="-0.38" y="6.02" font-size="17.5" fill="#141414" stroke="#fff" stroke-width="0.17" textLength="58.05" lengthAdjust="spacingAndGlyphs">8,840 sf</text>
<text transform="translate(582.3 430.0) rotate(-90.0)" x="-0.16" y="4.82" font-size="14.0" fill="#141414" stroke="#fff" stroke-width="0.12" textLength="32.76" lengthAdjust="spacingAndGlyphs">130.0'</text>
<text transform="translate(650.0 430.0) rotate(-90.0)" x="-0.16" y="4.82" font-size="14.0" fill="#141414" stroke="#fff" stroke-width="0.12" textLength="32.76" lengthAdjust="spacingAndGlyphs">130.0'</text>
<text transform="translate(717.3 430.0) rotate(-90.0)" x="-0.16" y="4.82" font-size="14.0" fill="#141414" stroke="#fff" stroke-width="0.12" textLength="32.76" lengthAdjust="spacingAndGlyphs">130.0'</text>
<text transform="translate(784.0 430.0) rotate(-90.0)" x="-0.16" y="4.82" font-size="14.0" fill="#141414" stroke="#fff" stroke-width="0.12" textLength="32.76" lengthAdjust="spacingAndGlyphs">130.0'</text>
<text transform="translate(625.0 455.7)" x="0.02" y="4.82" font-size="14.0" fill="#141414" stroke="#fff" stroke-width="0.12" textLength="28.77" lengthAdjust="spacingAndGlyphs">68.0'</text>
<text transform="translate(691.0 455.7)" x="0.02" y="4.82" font-size="14.0" fill="#141414" stroke="#fff" stroke-width="0.12" textLength="28.77" lengthAdjust="spacingAndGlyphs">68.0'</text>
<text transform="translate(757.7 455.7)" x="0.02" y="4.82" font-size="14.0" fill="#141414" stroke="#fff" stroke-width="0.12" textLength="28.77" lengthAdjust="spacingAndGlyphs">68.0'</text>
<text transform="translate(800.0 456.7)" x="-0.12" y="4.82" font-size="14.0" fill="#141414" stroke="#fff" stroke-width="0.12" textLength="14.90" lengthAdjust="spacingAndGlyphs">18'</text>
<text transform="translate(876.7 360.7)" x="-0.37" y="7.40" font-size="21.5" fill="#141414" stroke="#fff" stroke-width="0.22" textLength="51.84" lengthAdjust="spacingAndGlyphs">Lot 16</text>
<text transform="translate(876.7 382.4)" x="-0.57" y="6.02" font-size="17.5" fill="#141414" stroke="#fff" stroke-width="0.17" textLength="61.87" lengthAdjust="spacingAndGlyphs">10,624 sf</text>
<text transform="translate(874.3 409.0)" x="-0.16" y="4.82" font-size="14.0" fill="#141414" stroke="#fff" stroke-width="0.12" textLength="32.48" lengthAdjust="spacingAndGlyphs">128.0'</text>
<text transform="translate(818.3 377.3) rotate(-90.0)" x="0.05" y="4.82" font-size="14.0" fill="#141414" stroke="#fff" stroke-width="0.12" textLength="28.15" lengthAdjust="spacingAndGlyphs">83.0'</text>
<text transform="translate(876.7 431.7)" x="-0.37" y="7.40" font-size="21.5" fill="#141414" stroke="#fff" stroke-width="0.22" textLength="51.22" lengthAdjust="spacingAndGlyphs">Lot 15</text>
<text transform="translate(876.7 453.4)" x="-0.40" y="6.02" font-size="17.5" fill="#141414" stroke="#fff" stroke-width="0.17" textLength="54.36" lengthAdjust="spacingAndGlyphs">7,936 sf</text>
<text transform="translate(874.3 471.7)" x="-0.16" y="4.82" font-size="14.0" fill="#141414" stroke="#fff" stroke-width="0.12" textLength="32.48" lengthAdjust="spacingAndGlyphs">128.0'</text>
<text transform="translate(818.3 449.0) rotate(-90.0)" x="0.01" y="4.82" font-size="14.0" fill="#141414" stroke="#fff" stroke-width="0.12" textLength="27.80" lengthAdjust="spacingAndGlyphs">62.0'</text>
<text transform="translate(876.7 492.7)" x="-0.47" y="7.40" font-size="21.5" fill="#141414" stroke="#fff" stroke-width="0.22" textLength="52.90" lengthAdjust="spacingAndGlyphs">Lot 14</text>
<text transform="translate(876.7 514.4)" x="-0.40" y="6.02" font-size="17.5" fill="#141414" stroke="#fff" stroke-width="0.17" textLength="54.36" lengthAdjust="spacingAndGlyphs">7,936 sf</text>
<text transform="translate(874.3 533.3)" x="-0.16" y="4.82" font-size="14.0" fill="#141414" stroke="#fff" stroke-width="0.12" textLength="32.48" lengthAdjust="spacingAndGlyphs">128.0'</text>
<text transform="translate(818.3 511.7) rotate(-90.0)" x="0.01" y="4.82" font-size="14.0" fill="#141414" stroke="#fff" stroke-width="0.12" textLength="27.80" lengthAdjust="spacingAndGlyphs">62.0'</text>
<text transform="translate(876.7 555.0)" x="-0.36" y="7.40" font-size="21.5" fill="#141414" stroke="#fff" stroke-width="0.22" textLength="51.01" lengthAdjust="spacingAndGlyphs">Lot 13</text>
<text transform="translate(876.7 576.7)" x="-0.40" y="6.02" font-size="17.5" fill="#141414" stroke="#fff" stroke-width="0.17" textLength="55.34" lengthAdjust="spacingAndGlyphs">7,924 sf</text>
<text transform="translate(874.3 595.0)" x="-0.16" y="4.82" font-size="14.0" fill="#141414" stroke="#fff" stroke-width="0.12" textLength="32.48" lengthAdjust="spacingAndGlyphs">128.0'</text>
<text transform="translate(818.3 569.3) rotate(-90.0)" x="0.01" y="4.82" font-size="14.0" fill="#141414" stroke="#fff" stroke-width="0.12" textLength="24.58" lengthAdjust="spacingAndGlyphs">61.8'</text>
<text transform="translate(930.0 569.3) rotate(-90.0)" x="0.01" y="4.82" font-size="14.0" fill="#141414" stroke="#fff" stroke-width="0.12" textLength="27.80" lengthAdjust="spacingAndGlyphs">62.0'</text>
<text transform="translate(875.7 620.0)" x="-0.27" y="7.40" font-size="21.5" fill="#141414" stroke="#fff" stroke-width="0.22" textLength="51.20" lengthAdjust="spacingAndGlyphs">Lot 12</text>
<text transform="translate(875.0 641.7)" x="-0.36" y="6.02" font-size="17.5" fill="#141414" stroke="#fff" stroke-width="0.17" textLength="53.95" lengthAdjust="spacingAndGlyphs">8,532 sf</text>
<text transform="translate(822.3 641.7) rotate(-85.0)" x="0.01" y="4.82" font-size="14.0" fill="#141414" stroke="#fff" stroke-width="0.12" textLength="23.89" lengthAdjust="spacingAndGlyphs">79.1'</text>
<text transform="translate(932.3 633.3) rotate(-88.0)" x="0.07" y="4.82" font-size="14.0" fill="#141414" stroke="#fff" stroke-width="0.12" textLength="26.13" lengthAdjust="spacingAndGlyphs">55.2'</text>
<text transform="translate(875.0 660.5) rotate(-10.0)" x="-0.16" y="4.82" font-size="14.0" fill="#141414" stroke="#fff" stroke-width="0.12" textLength="31.78" lengthAdjust="spacingAndGlyphs">127.0'</text>
<text transform="translate(884.2 685.4)" x="-0.29" y="7.40" font-size="21.5" fill="#141414" stroke="#fff" stroke-width="0.22" textLength="46.78" lengthAdjust="spacingAndGlyphs">Lot 11</text>
<text transform="translate(884.2 707.1)" x="-0.37" y="6.02" font-size="17.5" fill="#141414" stroke="#fff" stroke-width="0.17" textLength="56.25" lengthAdjust="spacingAndGlyphs">8,465 sf</text>
<text transform="translate(836.9 718.5) rotate(73.0)" x="0.01" y="4.82" font-size="14.0" fill="#141414" stroke="#fff" stroke-width="0.12" textLength="27.38" lengthAdjust="spacingAndGlyphs">79.6'</text>
<text transform="translate(940.3 686.9) rotate(80.0)" x="0.07" y="4.82" font-size="14.0" fill="#141414" stroke="#fff" stroke-width="0.12" textLength="26.13" lengthAdjust="spacingAndGlyphs">55.2'</text>
<text transform="translate(890.0 730.0) rotate(-20.0)" x="-0.16" y="4.82" font-size="14.0" fill="#141414" stroke="#fff" stroke-width="0.12" textLength="31.78" lengthAdjust="spacingAndGlyphs">127.0'</text>
<text transform="translate(906.7 752.7)" x="-0.42" y="7.40" font-size="21.5" fill="#141414" stroke="#fff" stroke-width="0.22" textLength="52.79" lengthAdjust="spacingAndGlyphs">Lot 10</text>
<text transform="translate(906.7 775.0)" x="-0.37" y="6.02" font-size="17.5" fill="#141414" stroke="#fff" stroke-width="0.17" textLength="56.08" lengthAdjust="spacingAndGlyphs">8,463 sf</text>
<text transform="translate(864.0 791.7) rotate(63.0)" x="0.01" y="4.82" font-size="14.0" fill="#141414" stroke="#fff" stroke-width="0.12" textLength="27.38" lengthAdjust="spacingAndGlyphs">79.6'</text>
<text transform="translate(959.3 740.0) rotate(66.0)" x="0.07" y="4.82" font-size="14.0" fill="#141414" stroke="#fff" stroke-width="0.12" textLength="26.13" lengthAdjust="spacingAndGlyphs">55.2'</text>
<text transform="translate(899.3 802.3) rotate(-32.0)" x="-0.16" y="4.82" font-size="14.0" fill="#141414" stroke="#fff" stroke-width="0.12" textLength="31.78" lengthAdjust="spacingAndGlyphs">127.0'</text>
<text transform="translate(945.0 810.0)" x="-0.37" y="7.40" font-size="21.5" fill="#141414" stroke="#fff" stroke-width="0.22" textLength="45.97" lengthAdjust="spacingAndGlyphs">Lot 9</text>
<text transform="translate(945.0 832.3)" x="-0.37" y="6.02" font-size="17.5" fill="#141414" stroke="#fff" stroke-width="0.17" textLength="56.90" lengthAdjust="spacingAndGlyphs">8,304 sf</text>
<text transform="translate(906.7 852.3) rotate(50.0)" x="0.01" y="4.82" font-size="14.0" fill="#141414" stroke="#fff" stroke-width="0.12" textLength="26.82" lengthAdjust="spacingAndGlyphs">79.3'</text>
<text transform="translate(991.7 788.3) rotate(55.0)" x="0.07" y="4.82" font-size="14.0" fill="#141414" stroke="#fff" stroke-width="0.12" textLength="26.13" lengthAdjust="spacingAndGlyphs">55.2'</text>
<text transform="translate(942.3 859.0) rotate(-50.0)" x="-0.13" y="4.82" font-size="14.0" fill="#141414" stroke="#fff" stroke-width="0.12" textLength="27.32" lengthAdjust="spacingAndGlyphs">123.1'</text>
<text transform="translate(989.0 860.7)" x="-0.43" y="7.40" font-size="21.5" fill="#141414" stroke="#fff" stroke-width="0.22" textLength="46.49" lengthAdjust="spacingAndGlyphs">Lot 8</text>
<text transform="translate(989.0 883.3)" x="-0.37" y="6.02" font-size="17.5" fill="#141414" stroke="#fff" stroke-width="0.17" textLength="55.92" lengthAdjust="spacingAndGlyphs">8,603 sf</text>
<text transform="translate(955.0 910.7) rotate(50.0)" x="0.01" y="4.82" font-size="14.0" fill="#141414" stroke="#fff" stroke-width="0.12" textLength="26.82" lengthAdjust="spacingAndGlyphs">79.3'</text>
<text transform="translate(1030.0 830.0) rotate(40.0)" x="0.08" y="4.82" font-size="14.0" fill="#141414" stroke="#fff" stroke-width="0.12" textLength="27.80" lengthAdjust="spacingAndGlyphs">56.0'</text>
<text transform="translate(991.0 913.3) rotate(-55.0)" x="-0.16" y="4.82" font-size="14.0" fill="#141414" stroke="#fff" stroke-width="0.12" textLength="31.78" lengthAdjust="spacingAndGlyphs">134.5'</text>
<text transform="translate(1071.0 833.0) rotate(33.0)" x="-0.13" y="4.82" font-size="14.0" fill="#141414" stroke="#fff" stroke-width="0.12" textLength="15.19" lengthAdjust="spacingAndGlyphs">10'</text>
<text transform="translate(1046.7 883.3) rotate(-55.0)" x="-0.15" y="4.82" font-size="14.0" fill="#141414" stroke="#fff" stroke-width="0.12" textLength="30.53" lengthAdjust="spacingAndGlyphs">137.2'</text>
<text transform="translate(1045.7 911.7)" x="-0.32" y="7.40" font-size="21.5" fill="#141414" stroke="#fff" stroke-width="0.22" textLength="45.65" lengthAdjust="spacingAndGlyphs">Lot 7</text>
<text transform="translate(1045.7 933.4)" x="-0.57" y="6.02" font-size="17.5" fill="#141414" stroke="#fff" stroke-width="0.17" textLength="62.20" lengthAdjust="spacingAndGlyphs">10,082 sf</text>
<text transform="translate(1010.7 974.0) rotate(50.0)" x="0.01" y="4.82" font-size="14.0" fill="#141414" stroke="#fff" stroke-width="0.12" textLength="23.89" lengthAdjust="spacingAndGlyphs">67.1'</text>
<text transform="translate(1055.7 965.0) rotate(-63.0)" x="-0.15" y="4.82" font-size="14.0" fill="#141414" stroke="#fff" stroke-width="0.12" textLength="30.39" lengthAdjust="spacingAndGlyphs">152.3'</text>
<text transform="translate(1035.7 996.0)" x="-0.13" y="4.82" font-size="14.0" fill="#141414" stroke="#fff" stroke-width="0.12" textLength="23.76" lengthAdjust="spacingAndGlyphs">17.5'</text>
<text transform="translate(1084.8 868.0) rotate(25.0)" x="0.08" y="4.82" font-size="14.0" fill="#141414" stroke="#fff" stroke-width="0.12" textLength="26.41" lengthAdjust="spacingAndGlyphs">55.7'</text>
<text transform="translate(1115.0 933.3)" x="-0.42" y="7.40" font-size="21.5" fill="#141414" stroke="#fff" stroke-width="0.22" textLength="45.86" lengthAdjust="spacingAndGlyphs">Lot 6</text>
<text transform="translate(1115.0 955.6)" x="-0.36" y="6.02" font-size="17.5" fill="#141414" stroke="#fff" stroke-width="0.17" textLength="54.12" lengthAdjust="spacingAndGlyphs">9,757 sf</text>
<text transform="translate(1100.7 998.3)" x="-0.16" y="4.82" font-size="14.0" fill="#141414" stroke="#fff" stroke-width="0.12" textLength="33.03" lengthAdjust="spacingAndGlyphs">100.7'</text>
<text transform="translate(1137.3 886.7) rotate(12.0)" x="0.21" y="4.82" font-size="14.0" fill="#141414" stroke="#fff" stroke-width="0.12" textLength="27.53" lengthAdjust="spacingAndGlyphs">49.2'</text>
<text transform="translate(1184.3 933.3)" x="-0.42" y="7.40" font-size="21.5" fill="#141414" stroke="#fff" stroke-width="0.22" textLength="45.22" lengthAdjust="spacingAndGlyphs">Lot 5</text>
<text transform="translate(1184.3 955.6)" x="-0.40" y="6.02" font-size="17.5" fill="#141414" stroke="#fff" stroke-width="0.17" textLength="54.52" lengthAdjust="spacingAndGlyphs">7,585 sf</text>
<text transform="translate(1189.0 896.7) rotate(3.0)" x="0.08" y="4.82" font-size="14.0" fill="#141414" stroke="#fff" stroke-width="0.12" textLength="27.52" lengthAdjust="spacingAndGlyphs">57.0'</text>
<text transform="translate(1155.0 981.7) rotate(-83.0)" x="-0.15" y="4.82" font-size="14.0" fill="#141414" stroke="#fff" stroke-width="0.12" textLength="30.25" lengthAdjust="spacingAndGlyphs">122.3'</text>
<text transform="translate(1184.3 998.3)" x="0.01" y="4.82" font-size="14.0" fill="#141414" stroke="#fff" stroke-width="0.12" textLength="26.26" lengthAdjust="spacingAndGlyphs">72.3'</text>
<text transform="translate(1209.3 981.7) rotate(-90.0)" x="-0.14" y="4.82" font-size="14.0" fill="#141414" stroke="#fff" stroke-width="0.12" textLength="28.76" lengthAdjust="spacingAndGlyphs">115.0'</text>
<text transform="translate(1246.7 933.3)" x="-0.54" y="7.40" font-size="21.5" fill="#141414" stroke="#fff" stroke-width="0.22" textLength="46.90" lengthAdjust="spacingAndGlyphs">Lot 4</text>
<text transform="translate(1246.7 955.6)" x="-0.37" y="6.02" font-size="17.5" fill="#141414" stroke="#fff" stroke-width="0.17" textLength="51.24" lengthAdjust="spacingAndGlyphs">7,015 sf</text>
<text transform="translate(1244.3 998.3)" x="0.01" y="4.82" font-size="14.0" fill="#141414" stroke="#fff" stroke-width="0.12" textLength="24.86" lengthAdjust="spacingAndGlyphs">61.0'</text>
<text transform="translate(1270.7 981.7) rotate(-90.0)" x="-0.14" y="4.82" font-size="14.0" fill="#141414" stroke="#fff" stroke-width="0.12" textLength="28.76" lengthAdjust="spacingAndGlyphs">115.0'</text>
<text transform="translate(1307.7 933.3)" x="-0.41" y="7.40" font-size="21.5" fill="#141414" stroke="#fff" stroke-width="0.22" textLength="45.01" lengthAdjust="spacingAndGlyphs">Lot 3</text>
<text transform="translate(1307.7 955.6)" x="-0.37" y="6.02" font-size="17.5" fill="#141414" stroke="#fff" stroke-width="0.17" textLength="51.24" lengthAdjust="spacingAndGlyphs">7,015 sf</text>
<text transform="translate(1307.7 998.3)" x="0.01" y="4.82" font-size="14.0" fill="#141414" stroke="#fff" stroke-width="0.12" textLength="24.86" lengthAdjust="spacingAndGlyphs">61.0'</text>
<text transform="translate(1331.0 981.7) rotate(-90.0)" x="-0.14" y="4.82" font-size="14.0" fill="#141414" stroke="#fff" stroke-width="0.12" textLength="28.76" lengthAdjust="spacingAndGlyphs">115.0'</text>
<text transform="translate(1369.3 933.3)" x="-0.31" y="7.40" font-size="21.5" fill="#141414" stroke="#fff" stroke-width="0.22" textLength="45.23" lengthAdjust="spacingAndGlyphs">Lot 2</text>
<text transform="translate(1369.3 955.6)" x="-0.38" y="6.02" font-size="17.5" fill="#141414" stroke="#fff" stroke-width="0.17" textLength="59.68" lengthAdjust="spacingAndGlyphs">7,v015 sf</text>
<text transform="translate(1365.0 998.3)" x="0.01" y="4.82" font-size="14.0" fill="#141414" stroke="#fff" stroke-width="0.12" textLength="24.86" lengthAdjust="spacingAndGlyphs">61.0'</text>
<text transform="translate(1391.7 981.7) rotate(-90.0)" x="-0.14" y="4.82" font-size="14.0" fill="#141414" stroke="#fff" stroke-width="0.12" textLength="28.76" lengthAdjust="spacingAndGlyphs">115.0'</text>
<text transform="translate(1429.3 933.3)" x="-0.33" y="7.40" font-size="21.5" fill="#141414" stroke="#fff" stroke-width="0.22" textLength="40.67" lengthAdjust="spacingAndGlyphs">Lot 1</text>
<text transform="translate(1429.3 955.6)" x="-0.37" y="6.02" font-size="17.5" fill="#141414" stroke="#fff" stroke-width="0.17" textLength="51.24" lengthAdjust="spacingAndGlyphs">7,015 sf</text>
<text transform="translate(1429.3 998.3)" x="0.01" y="4.82" font-size="14.0" fill="#141414" stroke="#fff" stroke-width="0.12" textLength="24.86" lengthAdjust="spacingAndGlyphs">61.0'</text>
<text transform="translate(1452.3 981.7) rotate(-90.0)" x="-0.14" y="4.82" font-size="14.0" fill="#141414" stroke="#fff" stroke-width="0.12" textLength="28.76" lengthAdjust="spacingAndGlyphs">115.0'</text>
<text transform="translate(1068.7 327.3)" x="-0.12" y="4.82" font-size="14.0" fill="#141414" stroke="#fff" stroke-width="0.12" textLength="24.39" lengthAdjust="spacingAndGlyphs">131.1'</text>
<text transform="translate(1065.6 367.0)" x="-0.42" y="7.40" font-size="21.5" fill="#141414" stroke="#fff" stroke-width="0.22" textLength="58.95" lengthAdjust="spacingAndGlyphs">Lot 48</text>
<text transform="translate(1065.6 388.7)" x="-0.49" y="6.02" font-size="17.5" fill="#141414" stroke="#fff" stroke-width="0.17" textLength="52.82" lengthAdjust="spacingAndGlyphs">11,501 sf</text>
<text transform="translate(1068.7 414.8)" x="-0.12" y="4.82" font-size="14.0" fill="#141414" stroke="#fff" stroke-width="0.12" textLength="24.39" lengthAdjust="spacingAndGlyphs">131.1'</text>
<text transform="translate(1065.6 437.5)" x="-0.36" y="7.40" font-size="21.5" fill="#141414" stroke="#fff" stroke-width="0.22" textLength="58.43" lengthAdjust="spacingAndGlyphs">Lot 49</text>
<text transform="translate(1065.6 459.2)" x="-0.33" y="6.02" font-size="17.5" fill="#141414" stroke="#fff" stroke-width="0.17" textLength="50.67" lengthAdjust="spacingAndGlyphs">8,127 sf</text>
<text transform="translate(1068.7 477.0)" x="-0.12" y="4.82" font-size="14.0" fill="#141414" stroke="#fff" stroke-width="0.12" textLength="24.39" lengthAdjust="spacingAndGlyphs">131.1'</text>
<text transform="translate(1125.7 452.7) rotate(-90.0)" x="0.01" y="4.82" font-size="14.0" fill="#141414" stroke="#fff" stroke-width="0.12" textLength="27.80" lengthAdjust="spacingAndGlyphs">62.0'</text>
<text transform="translate(1065.6 500.0)" x="-0.46" y="7.40" font-size="21.5" fill="#141414" stroke="#fff" stroke-width="0.22" textLength="57.38" lengthAdjust="spacingAndGlyphs">Lot 50</text>
<text transform="translate(1065.6 521.7)" x="-0.33" y="6.02" font-size="17.5" fill="#141414" stroke="#fff" stroke-width="0.17" textLength="50.67" lengthAdjust="spacingAndGlyphs">8,127 sf</text>
<text transform="translate(1068.7 539.0)" x="-0.12" y="4.82" font-size="14.0" fill="#141414" stroke="#fff" stroke-width="0.12" textLength="24.39" lengthAdjust="spacingAndGlyphs">131.1'</text>
<text transform="translate(1125.7 514.3) rotate(-90.0)" x="0.01" y="4.82" font-size="14.0" fill="#141414" stroke="#fff" stroke-width="0.12" textLength="27.80" lengthAdjust="spacingAndGlyphs">62.0'</text>
<text transform="translate(1065.6 562.0)" x="-0.32" y="7.40" font-size="21.5" fill="#141414" stroke="#fff" stroke-width="0.22" textLength="51.31" lengthAdjust="spacingAndGlyphs">Lot 51</text>
<text transform="translate(1065.6 583.7)" x="-0.33" y="6.02" font-size="17.5" fill="#141414" stroke="#fff" stroke-width="0.17" textLength="50.67" lengthAdjust="spacingAndGlyphs">8,127 sf</text>
<text transform="translate(1068.7 601.0)" x="-0.12" y="4.82" font-size="14.0" fill="#141414" stroke="#fff" stroke-width="0.12" textLength="24.39" lengthAdjust="spacingAndGlyphs">131.1'</text>
<text transform="translate(1125.7 575.0) rotate(-90.0)" x="0.01" y="4.82" font-size="14.0" fill="#141414" stroke="#fff" stroke-width="0.12" textLength="27.80" lengthAdjust="spacingAndGlyphs">62.0'</text>
<text transform="translate(1070.0 632.5)" x="-0.30" y="7.40" font-size="21.5" fill="#141414" stroke="#fff" stroke-width="0.22" textLength="55.82" lengthAdjust="spacingAndGlyphs">Lot 52</text>
<text transform="translate(1070.0 654.8)" x="-0.34" y="6.02" font-size="17.5" fill="#141414" stroke="#fff" stroke-width="0.17" textLength="51.98" lengthAdjust="spacingAndGlyphs">9,901 sf</text>
<text transform="translate(1130.7 631.7) rotate(80.0)" x="0.21" y="4.82" font-size="14.0" fill="#141414" stroke="#fff" stroke-width="0.12" textLength="28.36" lengthAdjust="spacingAndGlyphs">45.0'</text>
<text transform="translate(1020.0 659.0) rotate(78.0)" x="-0.16" y="4.82" font-size="14.0" fill="#141414" stroke="#fff" stroke-width="0.12" textLength="31.78" lengthAdjust="spacingAndGlyphs">105.5'</text>
<text transform="translate(1072.0 677.0) rotate(-27.0)" x="-0.16" y="4.82" font-size="14.0" fill="#141414" stroke="#fff" stroke-width="0.12" textLength="32.06" lengthAdjust="spacingAndGlyphs">129.0'</text>
<text transform="translate(1104.0 699.5)" x="-0.40" y="7.40" font-size="21.5" fill="#141414" stroke="#fff" stroke-width="0.22" textLength="55.61" lengthAdjust="spacingAndGlyphs">Lot 53</text>
<text transform="translate(1104.0 721.8)" x="-0.37" y="6.02" font-size="17.5" fill="#141414" stroke="#fff" stroke-width="0.17" textLength="55.76" lengthAdjust="spacingAndGlyphs">9,899 sf</text>
<text transform="translate(1152.5 674.0) rotate(48.0)" x="0.21" y="4.82" font-size="14.0" fill="#141414" stroke="#fff" stroke-width="0.12" textLength="27.26" lengthAdjust="spacingAndGlyphs">45.5'</text>
<text transform="translate(1065.0 746.0) rotate(50.0)" x="-0.16" y="4.82" font-size="14.0" fill="#141414" stroke="#fff" stroke-width="0.12" textLength="33.03" lengthAdjust="spacingAndGlyphs">106.8'</text>
<text transform="translate(1105.0 760.7) rotate(-55.0)" x="-0.16" y="4.82" font-size="14.0" fill="#141414" stroke="#fff" stroke-width="0.12" textLength="31.50" lengthAdjust="spacingAndGlyphs">127.8'</text>
<text transform="translate(1127.7 775.7) rotate(-55.0)" x="-0.15" y="4.82" font-size="14.0" fill="#141414" stroke="#fff" stroke-width="0.12" textLength="31.22" lengthAdjust="spacingAndGlyphs">128.3'</text>
<text transform="translate(1197.0 711.0) rotate(30.0)" x="0.07" y="4.82" font-size="14.0" fill="#141414" stroke="#fff" stroke-width="0.12" textLength="25.99" lengthAdjust="spacingAndGlyphs">52.3'</text>
<text transform="translate(1178.3 749.0)" x="-0.51" y="7.40" font-size="21.5" fill="#141414" stroke="#fff" stroke-width="0.22" textLength="57.48" lengthAdjust="spacingAndGlyphs">Lot 54</text>
<text transform="translate(1178.3 770.7)" x="-0.36" y="6.02" font-size="17.5" fill="#141414" stroke="#fff" stroke-width="0.17" textLength="54.77" lengthAdjust="spacingAndGlyphs">9,782 sf</text>
<text transform="translate(1095.7 800.0) rotate(30.0)" x="-0.13" y="4.82" font-size="14.0" fill="#141414" stroke="#fff" stroke-width="0.12" textLength="15.19" lengthAdjust="spacingAndGlyphs">10'</text>
<text transform="translate(1158.3 807.3) rotate(17.0)" x="-0.14" y="4.82" font-size="14.0" fill="#141414" stroke="#fff" stroke-width="0.12" textLength="28.90" lengthAdjust="spacingAndGlyphs">118.6'</text>
<text transform="translate(1209.3 801.7) rotate(-90.0)" x="-0.14" y="4.82" font-size="14.0" fill="#141414" stroke="#fff" stroke-width="0.12" textLength="28.76" lengthAdjust="spacingAndGlyphs">115.0'</text>
<text transform="translate(1429.3 754.0)" x="-0.40" y="7.40" font-size="21.5" fill="#141414" stroke="#fff" stroke-width="0.22" textLength="55.82" lengthAdjust="spacingAndGlyphs">Lot 55</text>
<text transform="translate(1429.3 776.0)" x="-0.37" y="6.02" font-size="17.5" fill="#141414" stroke="#fff" stroke-width="0.17" textLength="51.24" lengthAdjust="spacingAndGlyphs">7,015 sf</text>
<text transform="translate(1428.3 720.5)" x="0.01" y="4.82" font-size="14.0" fill="#141414" stroke="#fff" stroke-width="0.12" textLength="24.86" lengthAdjust="spacingAndGlyphs">61.0'</text>
<text transform="translate(1391.7 768.3) rotate(-90.0)" x="-0.14" y="4.82" font-size="14.0" fill="#141414" stroke="#fff" stroke-width="0.12" textLength="28.76" lengthAdjust="spacingAndGlyphs">115.0'</text>
</svg>
</body></html>
